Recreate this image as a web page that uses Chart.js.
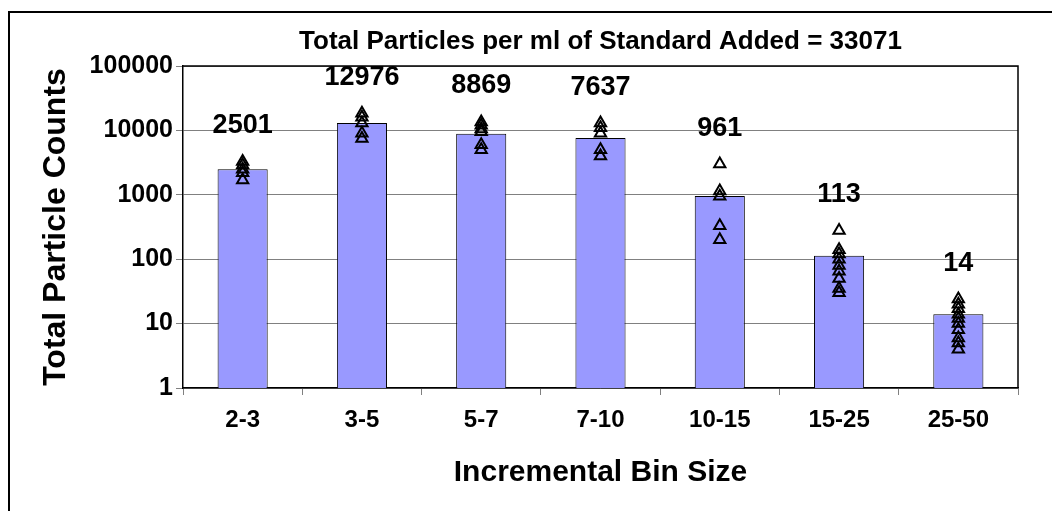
<!DOCTYPE html>
<html>
<head>
<meta charset="utf-8">
<script src="https://cdn.jsdelivr.net/npm/chart.js@4.4.1/dist/chart.umd.min.js"></script>
<style>
html, body { margin: 0; padding: 0; background: #fff; overflow: hidden; }
#frame { position: absolute; left: 8px; top: 11px; width: 1200px; height: 700px; border-top: 2px solid #000; border-left: 2px solid #000; }
#chart { position: absolute; left: 0; top: 0; }
</style>
</head>
<body>
<div id="frame"></div>
<canvas id="chart" width="1052" height="511"></canvas>
<script>
// datos del grafico
var binSizes = ['2-3', '3-5', '5-7', '7-10', '10-15', '15-25', '25-50'];
var totalCounts = [2501, 12976, 8869, 7637, 961, 113, 14];
var replicateCounts = [
    [3300, 2900, 2500, 2200, 1700],
    [18500, 16000, 13000, 9000, 7500],
    [13500, 12000, 10500, 9500, 6000, 5000],
    [13000, 11000, 9000, 5000, 4000],
    [3000, 1150, 950, 330, 200],
    [280, 140, 120, 100, 80, 65, 50, 35, 30],
    [24, 20, 17, 14, 12, 10, 8, 6, 5, 4]
];
var yTickValues = [1, 10, 100, 1000, 10000, 100000];
var chartTitle = 'Total Particles per ml of Standard Added = 33071';

var FONT = '"Liberation Sans", Arial, sans-serif';

var replicatePoints = [];
binSizes.forEach(function (bin, i) {
    replicateCounts[i].forEach(function (v) {
        replicatePoints.push({ x: bin, y: v });
    });
});

// titulo y etiquetas encima de cada barra
var labelsPlugin = {
    id: 'labels',
    afterDraw: function (chart) {
        var ctx = chart.ctx;
        var area = chart.chartArea;
        var xs = chart.scales.x, ys = chart.scales.y;
        ctx.save();
        ctx.strokeStyle = '#000';
        ctx.lineWidth = 1.5;
        ctx.beginPath();
        ctx.moveTo(area.left, area.top);
        ctx.lineTo(area.right, area.top);
        ctx.lineTo(area.right, area.bottom);
        ctx.stroke();

        ctx.fillStyle = '#000';
        ctx.textAlign = 'center';
        ctx.textBaseline = 'middle';
        ctx.font = 'bold 26px ' + FONT;
        ctx.fillText(chartTitle, (area.left + area.right) / 2, 42);

        ctx.font = 'bold 27px ' + FONT;
        binSizes.forEach(function (bin, i) {
            var top = Math.max.apply(null, replicateCounts[i]);
            var x = xs.getPixelForValue(i);
            var y = ys.getPixelForValue(top) - 36;
            ctx.fillText(String(totalCounts[i]), x, y);
        });
        ctx.restore();
    }
};

var chart = new Chart(document.getElementById('chart'), {
    type: 'bar',
    data: {
        labels: binSizes,
        datasets: [
            {
                type: 'line',
                label: 'Replicates',
                data: replicatePoints,
                showLine: false,
                pointStyle: 'triangle',
                pointRadius: 6.5,
                pointBorderWidth: 2,
                pointBorderColor: '#000',
                pointBackgroundColor: 'rgba(0,0,0,0)',
                order: 0
            },
            {
                label: 'Total',
                data: totalCounts,
                backgroundColor: '#9999FF',
                borderColor: '#000',
                borderWidth: 1,
                categoryPercentage: 1,
                barPercentage: 0.42,
                order: 1
            }
        ]
    },
    options: {
        responsive: false,
        animation: false,
        devicePixelRatio: 1,
        layout: { padding: { top: 66, right: 34, left: 0, bottom: 0 } },
        plugins: {
            legend: { display: false },
            tooltip: { enabled: false },
            title: { display: false }
        },
        scales: {
            x: {
                offset: true,
                grid: { offset: true, drawOnChartArea: false, drawTicks: true, tickLength: 7, color: '#808080' },
                border: { color: '#000', width: 1.5 },
                ticks: { color: '#000', font: { family: FONT, size: 24, weight: 'bold' }, padding: 11, maxRotation: 0 },
                title: { display: true, text: 'Incremental Bin Size', color: '#000', font: { family: FONT, size: 30, weight: 'bold' }, padding: { top: 0, bottom: 20 } },
                afterFit: function (scale) { scale.height = 123; }
            },
            y: {
                type: 'logarithmic',
                min: 1,
                max: 100000,
                grid: { color: '#808080', tickLength: 7, drawTicks: true },
                border: { color: '#000', width: 1.5 },
                ticks: {
                    color: '#000',
                    font: { family: FONT, size: 25, weight: 'bold' },
                    padding: 3,
                    callback: function (v) { return String(v); }
                },
                afterBuildTicks: function (scale) {
                    scale.ticks = yTickValues.map(function (v) { return { value: v }; });
                },
                title: { display: true, text: 'Total Particle Counts', color: '#000', font: { family: FONT, size: 32, weight: 'bold' }, padding: { top: 37, bottom: 0 } },
                afterFit: function (scale) { scale.width = 183; }
            }
        }
    },
    plugins: [labelsPlugin]
});
</script>
</body>
</html>
